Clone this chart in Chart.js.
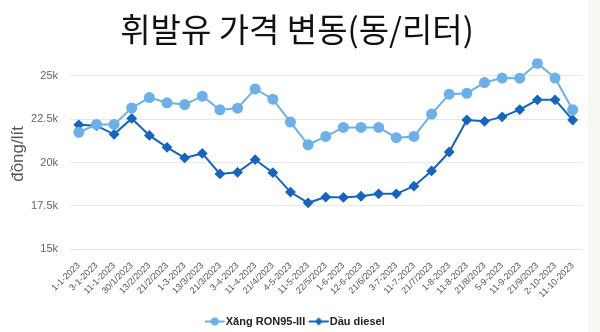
<!DOCTYPE html>
<html lang="vi">
<head>
<meta charset="UTF-8">
<title>휘발유 가격 변동</title>
<script src="https://cdn.jsdelivr.net/npm/chart.js"></script>
<style>
    body {
        margin: 0;
        background: #f8f6f1;
    }
    .wrap {
        width: 588px;
        height: 332px;
        background: #fff;
    }
</style>
</head>
<body>
<div class="wrap">
    <canvas id="fuelChart" width="588" height="332"></canvas>
</div>
<script>
    const dates = ['1-1-2023', '3-1-2023', '11-1-2023', '30/1/2023', '13/2/2023', '21/2/2023',
        '1-3-2023', '13/3/2023', '21/3/2023', '3-4-2023', '11-4-2023', '21/4/2023', '4-5-2023',
        '11-5-2023', '22/5/2023', '1-6-2023', '12-6-2023', '21/6/2023', '3-7-2023', '11-7-2023',
        '21/7/2023', '1-8-2023', '11-8-2023', '21/8/2023', '5-9-2023', '11-9-2023', '21/9/2023',
        '2-10-2023', '11-10-2023'];

    // RON95-III petrol, dong per litre
    const ron95 = [21750, 22200, 22200, 23150, 23750, 23450, 23350, 23830, 23050, 23140,
        24250, 23660, 22340, 21030, 21510, 22030, 22030, 22030, 21440, 21510,
        22800, 23950, 24000, 24620, 24880, 24870, 25730, 24880, 23050];

    // diesel, dong per litre
    const diesel = [22180, 22130, 21630, 22550, 21570, 20880, 20270, 20530, 19350, 19440,
        20170, 19420, 18300, 17680, 18010, 17990, 18060, 18200, 18200, 18640,
        19520, 20610, 22460, 22380, 22640, 23060, 23620, 23620, 22460];

    const yTicks = [15000, 17500, 20000, 22500, 25000];

    const lightBlue = '#6cb0ea';
    const darkBlue = '#1565c0';

    // little line-with-marker swatch for the legend
    function swatch(color, style) {
        const c = document.createElement('canvas');
        c.width = 22; c.height = 10;
        const ctx = c.getContext('2d');
        ctx.strokeStyle = color;
        ctx.fillStyle = color;
        ctx.lineWidth = 2;
        ctx.beginPath();
        ctx.moveTo(1, 5); ctx.lineTo(21, 5);
        ctx.stroke();
        ctx.beginPath();
        if (style === 'circle') {
            ctx.arc(11, 5, 4, 0, Math.PI * 2);
        } else {
            ctx.moveTo(11, 1); ctx.lineTo(15, 5); ctx.lineTo(11, 9); ctx.lineTo(7, 5);
            ctx.closePath();
        }
        ctx.fill();
        return c;
    }

    // draw the legend row a few px lower than the layout puts it
    const legendNudge = {
        id: 'legendNudge',
        afterLayout(chart) {
            const lg = chart.legend;
            if (!lg || lg._nudged) return;
            const draw = lg.draw.bind(lg);
            lg.draw = function () {
                chart.ctx.save();
                chart.ctx.translate(0, 5);
                draw();
                chart.ctx.restore();
            };
            lg._nudged = true;
        }
    };

    new Chart(document.getElementById('fuelChart'), {
        type: 'line',
        plugins: [legendNudge],
        data: {
            labels: dates,
            datasets: [
                {
                    label: 'Xăng RON95-III',
                    data: ron95,
                    borderColor: lightBlue,
                    backgroundColor: lightBlue,
                    borderWidth: 2,
                    pointStyle: 'circle',
                    pointRadius: 4.5,
                    tension: 0
                },
                {
                    label: 'Dầu diesel',
                    data: diesel,
                    borderColor: darkBlue,
                    backgroundColor: darkBlue,
                    borderWidth: 2,
                    pointStyle: 'rectRot',
                    pointRadius: 4,
                    tension: 0
                }
            ]
        },
        options: {
            responsive: false,
            animation: false,
            layout: { padding: { left: 8, right: 2, top: 0, bottom: 0 } },
            plugins: {
                title: {
                    display: true,
                    text: '휘발유 가격 변동(동/리터)',
                    color: '#111',
                    font: { family: "'Noto Sans CJK KR', sans-serif", size: 33, weight: 'normal' },
                    padding: { top: 10, bottom: 9 }
                },
                legend: {
                    position: 'bottom',
                    labels: {
                        usePointStyle: true,
                        color: '#222',
                        font: { family: "'Liberation Sans', Arial, sans-serif", size: 11, weight: 'bold' },
                        padding: 8,
                        generateLabels(chart) {
                            return chart.data.datasets.map((ds, i) => ({
                                text: ds.label,
                                fillStyle: ds.borderColor,
                                strokeStyle: ds.borderColor,
                                pointStyle: swatch(ds.borderColor, ds.pointStyle),
                                fontColor: '#222',
                                hidden: !chart.isDatasetVisible(i),
                                datasetIndex: i
                            }));
                        }
                    }
                }
            },
            scales: {
                x: {
                    offset: true,
                    grid: { display: false },
                    border: { color: '#dfe5f0' },
                    ticks: {
                        minRotation: 45,
                        maxRotation: 45,
                        autoSkip: false,
                        color: '#555',
                        font: { family: "'Liberation Sans', Arial, sans-serif", size: 9 },
                        padding: 3
                    }
                },
                y: {
                    min: 15000,
                    max: 26000,
                    afterBuildTicks(scale) {
                        scale.ticks = yTicks.map(v => ({ value: v }));
                    },
                    afterFit(scale) {
                        scale.width = 62;
                    },
                    grid: { color: '#e8e8ec', drawTicks: false },
                    border: { display: false },
                    ticks: {
                        color: '#666',
                        font: { family: "'Liberation Sans', Arial, sans-serif", size: 11 },
                        padding: 12,
                        callback: v => (v / 1000) + 'k'
                    },
                    title: {
                        display: true,
                        text: 'đồng/lít',
                        color: '#555',
                        font: { family: "'Liberation Sans', Arial, sans-serif", size: 17 },
                        padding: { top: 0, bottom: 0 }
                    }
                }
            }
        }
    });
</script>
</body>
</html>
